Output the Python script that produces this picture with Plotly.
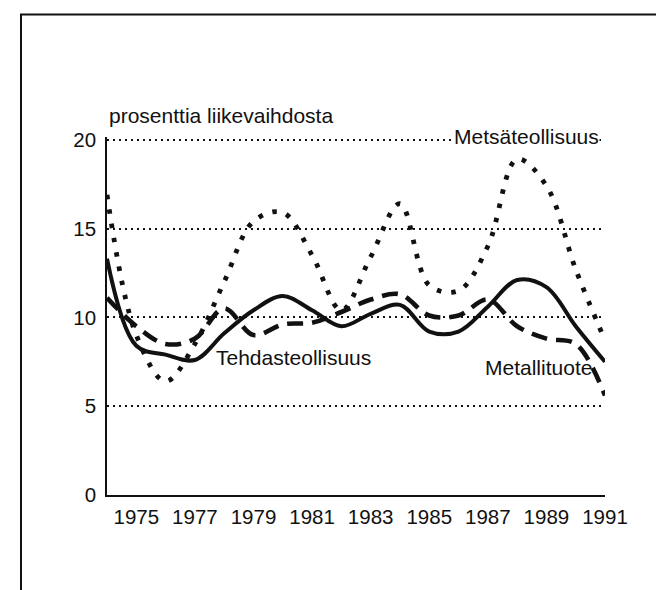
import plotly.graph_objects as go

# ---- data ----
years = list(range(1974, 1992))
tehdasteollisuus = [13.3, 8.4, 7.9, 7.6, 9.1, 10.4, 11.2, 10.4, 9.5, 10.2, 10.7, 9.2, 9.2, 10.6, 12.1, 11.7, 9.5, 7.5]
metallituote = [11.1, 9.5, 8.5, 8.8, 10.5, 9.0, 9.6, 9.7, 10.3, 11.0, 11.3, 10.1, 10.1, 11.0, 9.5, 8.8, 8.5, 5.6]
metsateollisuus = [16.9, 9.0, 6.4, 8.5, 12.0, 15.4, 15.9, 13.5, 10.4, 13.4, 16.4, 11.8, 11.5, 14.0, 18.9, 17.4, 12.7, 8.7]
x_ticks = [1975, 1977, 1979, 1981, 1983, 1985, 1987, 1989, 1991]
y_ticks = [0, 5, 10, 15, 20]
y_title = "prosenttia liikevaihdosta"
labels = ["Tehdasteollisuus", "Metallituote", "Metsäteollisuus"]

# ---- layout geometry (pixels) ----
W, H = 664, 590
PL, PR, PB = 99, 597, 487
PT20 = 132                      # pixel row of the value 20
YTOP = 20.15                    # small headroom so the 20 gridline is drawn
unit = (PB - PT20) / 20.0
PT = PB - YTOP * unit
pw, ph = PR - PL, PB - PT

def px(x):
    return (x - PL) / pw

def py(y):
    return (PB - y) / ph

FONT = "Liberation Sans, Arial, Helvetica, sans-serif"
INK = "#111111"

fig = go.Figure()
fig.add_trace(go.Scatter(x=years, y=metsateollisuus, mode="lines",
                         line=dict(color=INK, width=4.8, dash="4.5px,10px", shape="spline", smoothing=1.0),
                         name=labels[2]))
fig.add_trace(go.Scatter(x=years, y=metallituote, mode="lines",
                         line=dict(color=INK, width=4.6, dash="16px,9px", shape="spline", smoothing=1.0),
                         name=labels[1]))
fig.add_trace(go.Scatter(x=years, y=tehdasteollisuus, mode="lines",
                         line=dict(color=INK, width=4.0, shape="spline", smoothing=1.0),
                         name=labels[0]))

fig.update_layout(
    width=W, height=H,
    margin=dict(l=PL, r=W - PR, t=round(PT), b=H - PB, pad=0),
    paper_bgcolor="white", plot_bgcolor="white",
    showlegend=False,
    font=dict(family=FONT, size=20, color=INK),
    xaxis=dict(range=[1974, 1991], tickvals=x_ticks, ticktext=[str(t) for t in x_ticks],
               showgrid=False, zeroline=False, showline=True, linecolor=INK, linewidth=1.5,
               ticks="", ticklabelstandoff=3, tickfont=dict(size=20.5)),
    yaxis=dict(range=[0, YTOP], tickvals=y_ticks, showgrid=True, gridcolor=INK, gridwidth=1.5,
               griddash="1.5px,4.5px", zeroline=False, showline=True, linecolor=INK, linewidth=1.5,
               ticks="", ticklabelstandoff=5, tickfont=dict(size=20.5)),
    shapes=[dict(type="rect", xref="paper", yref="paper",
                 x0=px(13), x1=px(657), y0=py(605), y1=py(7),
                 line=dict(color=INK, width=2), fillcolor="rgba(0,0,0,0)", layer="below")],
    annotations=[
        dict(text=y_title, xref="paper", yref="paper", x=px(99), y=py(108),
             xanchor="left", yanchor="middle", showarrow=False, font=dict(size=21)),
        dict(text=labels[0], xref="paper", yref="paper", x=px(206), y=py(350),
             xanchor="left", yanchor="middle", showarrow=False, font=dict(size=21)),
        dict(text=labels[1], xref="paper", yref="paper", x=px(475), y=py(360),
             xanchor="left", yanchor="middle", showarrow=False, font=dict(size=21)),
        dict(text=labels[2], xref="paper", yref="paper", x=px(518), y=py(129),
             xanchor="center", yanchor="middle", showarrow=False, font=dict(size=21),
             bgcolor="white", borderpad=0),
    ],
)

fig.write_html("out.html")
